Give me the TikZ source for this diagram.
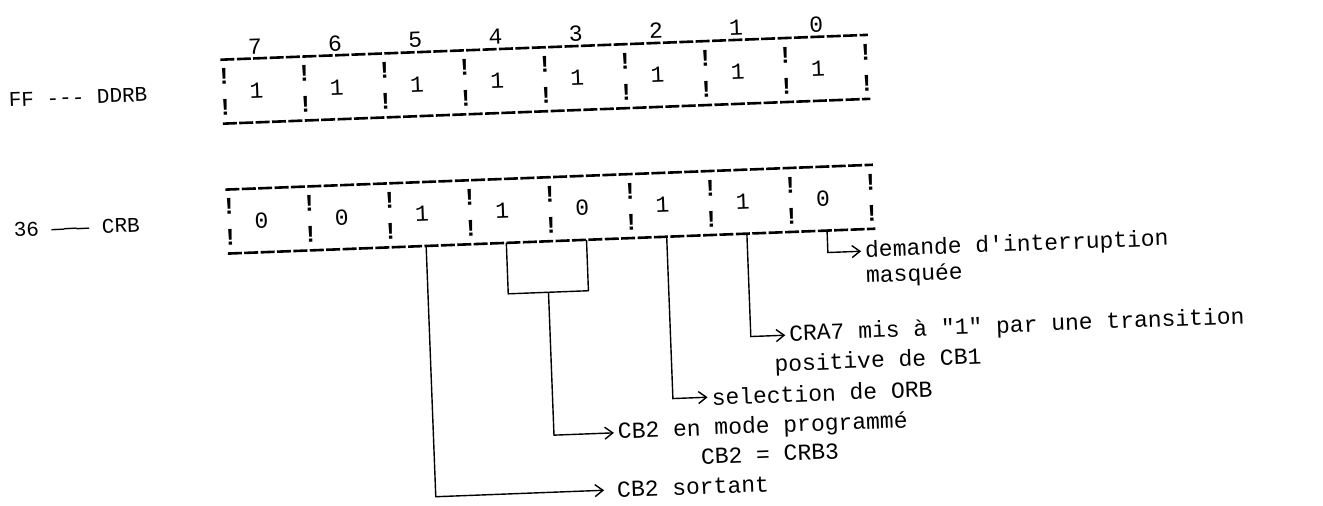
\documentclass[tikz,border=0pt]{standalone}
\usepackage{fontspec}
\setmonofont{Liberation Mono}
\usetikzlibrary{arrows.meta}
\tikzset{
  machine/.style={font=\ttfamily\fontsize{11.5}{13}\selectfont, inner sep=0.3pt},
  etiquette/.style={font=\ttfamily\fontsize{10.5}{12}\selectfont, inner sep=0.3pt},
  sep/.style={font=\ttfamily\bfseries\fontsize{12}{14}\selectfont, inner sep=0pt},
  regline/.style={line width=1.3pt, dash pattern=on 7pt off 1.2pt},
  trait/.style={line width=0.7pt},
  fleche/.style={line width=0.7pt, shorten >=1.5pt, -{Straight Barb[length=4pt,width=6pt]}}
}
\begin{document}
\begin{tikzpicture}[x=0.5pt,y=-0.5pt]
\useasboundingbox (0,0) rectangle (1323,506);
\begin{scope}[rotate around={2.2:(660,250)}, transform shape]
  % Registre DDRB
  \draw[regline] (228,43) -- (876,43);
  \draw[regline] (228,107) -- (876,107);
  \foreach \b [count=\i from 0] in {7,...,0} {
    \node[machine] (num\b) at ({263+80.25*\i},31) {\b};
    \node[machine] (dd\b) at ({263+80.25*\i},75) {1};
  }
  \foreach \i in {0,...,8} {
    \node[sep] (dsa\i) at ({231+80.25*\i},60) {!};
    \node[sep] (dsb\i) at ({231+80.25*\i},91) {!};
  }
  \node[etiquette, anchor=west] (ddrb) at (14,75) {FF --- DDRB};
  % Registre CRB
  \draw[regline] (228,173) -- (876,173);
  \draw[regline] (228,237) -- (876,237);
  \foreach \v [count=\i from 0] in {0,0,1,1,0,1,1,0} {
    \pgfmathtruncatemacro\b{7-\i}
    \node[machine] (cr\b) at ({263+80.25*\i},205) {\v};
    \coordinate (pied\b) at ({266+80.25*\i},237);
  }
  \foreach \i in {0,...,8} {
    \node[sep] (csa\i) at ({231+80.25*\i},190) {!};
    \node[sep] (csb\i) at ({231+80.25*\i},221) {!};
  }
  \node[etiquette, anchor=west] (crb) at (14,205) {36 ——— CRB};
  % Textes
  \node[machine, anchor=west] (irq) at (864,259) {demande d'interruption};
  \node[machine, anchor=west] (irqb) at (864,285) {masquée};
  \node[machine, anchor=west] (cra) at (785,340) {CRA7 mis à "1" par une transition};
  \node[machine, anchor=west] (crab) at (769,370) {positive de CB1};
  \node[machine, anchor=west] (orb) at (705,399) {selection de ORB};
  \node[machine, anchor=west] (prog) at (610,431) {CB2 en mode programmé};
  \node[machine, anchor=west] (progb) at (692,458) {CB2 = CRB3};
  \node[machine, anchor=west] (sortant) at (607,488) {CB2 sortant};
  % Liaisons
  \coordinate (jg) at (pied4 |- 0,288);
  \coordinate (jd) at (pied3 |- 0,288);
  \coordinate (jm) at (547,288);
  \draw[trait] (pied4) -- (jg) -- (jd) -- (pied3);
  \draw[fleche] (pied0) |- (irq.west);
  \draw[fleche] (pied1) |- (cra.west);
  \draw[fleche] (pied2) |- (orb.west);
  \draw[fleche] (jm) |- (prog.west);
  \draw[fleche, shorten >=6pt] (pied5) |- (sortant.west);
\end{scope}
\end{tikzpicture}
\end{document}
